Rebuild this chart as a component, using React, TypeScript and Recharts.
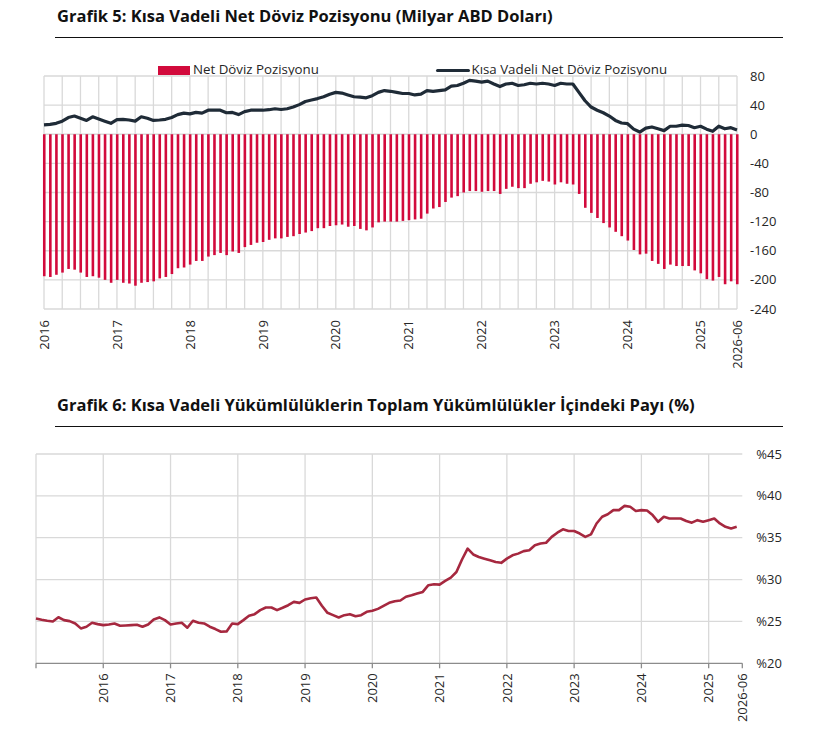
import React from 'react';
import { ComposedChart, LineChart, Bar, Line, XAxis, YAxis, CartesianGrid } from 'recharts';

// ---------- Grafik 5 data (monthly, from 2016-01) ----------
const topYearLabels = ['2016', '2017', '2018', '2019', '2020', '2021', '2022', '2023', '2024', '2025'];
const topEndLabel = '2026-06';
const topYTicks = [80, 40, 0, -40, -80, -120, -160, -200, -240];

// Net Döviz Pozisyonu (bars)
const netPosition = [
  -195, -196, -193, -190, -185, -186, -190, -196, -195, -197, -200, -204,
  -200, -204, -205, -208, -204, -203, -202, -198, -196, -192, -184, -183,
  -179, -174, -174, -168, -166, -163, -166, -161, -163, -155, -152, -149,
  -148, -145, -143, -143, -141, -140, -137, -135, -133, -129, -129, -126,
  -125, -124, -127, -126, -130, -132, -128, -121, -120, -120, -120, -119,
  -118, -117, -116, -109, -102, -100, -93, -87, -85, -80, -78, -78,
  -79, -78, -78, -82, -75, -72, -74, -74, -68, -66, -64, -65,
  -69, -66, -68, -69, -82, -101, -108, -115, -122, -128, -134, -140,
  -146, -159, -165, -164, -174, -178, -185, -179, -181, -181, -181, -187,
  -191, -199, -201, -196, -206, -202, -206,
];

// Kısa Vadeli Net Döviz Pozisyonu (line)
const shortNet = [
  13, 13.5, 15, 18, 23, 25, 22, 19, 24, 21, 18, 15,
  20, 20.5, 19.6, 18, 24, 22, 19, 19.6, 20.5, 23, 27, 29,
  28, 30, 29, 33, 33, 33, 29.5, 30, 27, 31, 33, 33,
  33, 33.7, 35, 34, 35, 37.4, 40.7, 45, 47, 49, 51.5, 55,
  57.5, 56.6, 54, 51.5, 51, 50, 53, 57.5, 60, 59, 57.5, 56,
  56, 54, 55, 60, 59, 60, 61, 66, 67, 70, 74, 73,
  71.6, 73, 69, 65.5, 69, 70, 67, 68, 70, 69, 70, 69,
  67, 70, 69, 69, 57.5, 46, 37.4, 33, 29.5, 25, 19, 15.5,
  14.5, 7, 3, 8.5, 10, 7.5, 5, 11, 11, 12.6, 12, 9,
  11, 7, 4, 11, 7.5, 9, 6,
];

// ---------- Grafik 6 data (monthly, from 2015-01) ----------
const bottomYearLabels = ['2016', '2017', '2018', '2019', '2020', '2021', '2022', '2023', '2024', '2025'];
const bottomEndLabel = '2026-06';
const bottomYTicks = [20, 25, 30, 35, 40, 45];

const shortShare = [
  25.36, 25.2, 25.08, 25.0, 25.5, 25.16, 25.04, 24.76, 24.17, 24.37, 24.84, 24.68,
  24.56, 24.64, 24.76, 24.48, 24.52, 24.56, 24.6, 24.37, 24.64, 25.24, 25.48, 25.16,
  24.64, 24.76, 24.84, 24.25, 25.08, 24.84, 24.76, 24.37, 24.09, 23.77, 23.81, 24.76,
  24.68, 25.16, 25.67, 25.87, 26.35, 26.67, 26.67, 26.35, 26.63, 26.94, 27.34, 27.22,
  27.62, 27.78, 27.86, 26.87, 26.03, 25.75, 25.48, 25.75, 25.87, 25.63, 25.75, 26.15,
  26.27, 26.5, 26.87, 27.22, 27.42, 27.5, 27.95, 28.13, 28.33, 28.53, 29.33, 29.44,
  29.4, 29.84, 30.24, 30.9, 32.4, 33.7, 33.0, 32.7, 32.5, 32.3, 32.1, 32.0,
  32.5, 32.9, 33.1, 33.4, 33.5, 34.1, 34.3, 34.4, 35.1, 35.6, 36.0, 35.8,
  35.8, 35.5, 35.1, 35.4, 36.7, 37.5, 37.8, 38.3, 38.3, 38.8, 38.7, 38.2,
  38.3, 38.25, 37.7, 36.9, 37.5, 37.3, 37.3, 37.3, 37.0, 36.8, 37.1, 36.9,
  37.1, 37.3, 36.7, 36.3, 36.1, 36.3,
];

// ---------- colours / fonts ----------
const BAR_RED = '#D20A3C';
const LINE_DARK = '#1F2B37';
const LINE_MAROON = '#A6283F';
const GRID = '#D9D9D9';
const AXIS_TEXT = '#262626';
const FONT = '"Open Sans", "DejaVu Sans", sans-serif';

// ---------- derived tables ----------
const topRows = netPosition.map((v, i) => ({ m: i, net: v, shortNet: shortNet[i] }));
const topLast = netPosition.length - 1;
const topTicks = [...topYearLabels.map((_, k) => k * 12), topLast];
const topTickLabel = (v: number) => (v === topLast ? topEndLabel : topYearLabels[v / 12] ?? '');
const topGridX = Array.from({ length: Math.floor(topLast / 3) + 1 }, (_, k) => k * 3);

const bottomRows = shortShare.map((v, i) => ({ m: i, share: v }));
const bottomEnd = shortShare.length;
const bottomTicks = [0, ...bottomYearLabels.map((_, k) => (k + 1) * 12), bottomEnd];
const bottomTickLabel = (v: number) =>
  v === bottomEnd ? bottomEndLabel : v === 0 ? '' : bottomYearLabels[v / 12 - 1] ?? '';
const bottomGridX = [0, ...bottomYearLabels.map((_, k) => (k + 1) * 12)];

const RotTick = (props: any) => {
  const { x, y, payload, fmt } = props;
  return (
    <text
      x={x}
      y={y}
      transform={`rotate(-90 ${x} ${y})`}
      textAnchor="end"
      dy="0.36em"
      fill={AXIS_TEXT}
      fontSize={13}
      fontFamily={FONT}
    >
      {fmt(payload.value)}
    </text>
  );
};

const Title = ({ top, ruleTop, text }: { top: number; ruleTop: number; text: string }) => (
  <>
    <div
      style={{
        position: 'absolute',
        left: 57,
        top,
        fontFamily: FONT,
        fontWeight: 700,
        fontSize: 16.5,
        lineHeight: '20px',
        color: '#111',
        whiteSpace: 'nowrap',
      }}
    >
      {text}
    </div>
    <div style={{ position: 'absolute', left: 55, top: ruleTop, width: 728, height: 1.2, background: '#111' }} />
  </>
);

const legendText: React.CSSProperties = {
  position: 'absolute',
  top: 60.6,
  fontFamily: FONT,
  fontSize: 13.3,
  lineHeight: '17px',
  color: AXIS_TEXT,
  whiteSpace: 'nowrap',
};

export default function App() {
  return (
    <div style={{ position: 'absolute', left: 0, top: 0, width: 817, height: 732, background: '#fff', overflow: 'hidden' }}>
      <Title top={5.9} ruleTop={36.8} text="Grafik 5: Kısa Vadeli Net Döviz Pozisyonu (Milyar ABD Doları)" />

      {/* legend */}
      <div style={{ position: 'absolute', left: 158, top: 66, width: 32, height: 9, background: BAR_RED }} />
      <div style={{ ...legendText, left: 193 }}>Net Döviz Pozisyonu</div>
      <div style={{ position: 'absolute', left: 436, top: 68.5, width: 34, height: 3.5, background: LINE_DARK, borderRadius: 2 }} />
      <div style={{ ...legendText, left: 471.5 }}>Kısa Vadeli Net Döviz Pozisyonu</div>

      <div style={{ position: 'absolute', left: 0, top: 0 }}>
        <ComposedChart width={817} height={372} data={topRows} margin={{ top: 76, right: 20, bottom: 3, left: 44 }}>
          <CartesianGrid stroke={GRID} strokeWidth={1.3} verticalValues={topGridX} horizontalValues={topYTicks} />
          <XAxis
            dataKey="m"
            type="number"
            domain={[0, topLast]}
            ticks={topTicks}
            interval={0}
            axisLine={false}
            tickLine={false}
            tickSize={0}
            tickMargin={11}
            height={60}
            tick={<RotTick fmt={topTickLabel} />}
          />
          <YAxis
            orientation="right"
            domain={[-240, 80]}
            ticks={topYTicks}
            interval={0}
            width={60}
            axisLine={false}
            tickLine={false}
            tickSize={0}
            tickMargin={13}
            tick={{ fill: AXIS_TEXT, fontSize: 13, fontFamily: FONT }}
          />
          <Bar dataKey="net" fill={BAR_RED} barSize={2.6} isAnimationActive={false} />
          <Line
            dataKey="shortNet"
            type="linear"
            stroke={LINE_DARK}
            strokeWidth={3.2}
            dot={false}
            strokeLinejoin="round"
            isAnimationActive={false}
          />
        </ComposedChart>
      </div>

      <Title top={395.3} ruleTop={425.8} text="Grafik 6: Kısa Vadeli Yükümlülüklerin Toplam Yükümlülükler İçindeki Payı (%)" />

      <div style={{ position: 'absolute', left: 0, top: 380 }}>
        <LineChart width={817} height={352} data={bottomRows} margin={{ top: 74, right: 14.7, bottom: 8.7, left: 36 }}>
          <CartesianGrid stroke={GRID} strokeWidth={1.3} verticalValues={bottomGridX} horizontalValues={[25, 30, 35, 40, 45]} />
          <XAxis
            dataKey="m"
            type="number"
            domain={[0, bottomEnd]}
            ticks={bottomTicks}
            interval={0}
            axisLine={{ stroke: '#8C8C8C', strokeWidth: 1.3 }}
            tickLine={{ stroke: '#8C8C8C', strokeWidth: 1.3 }}
            tickSize={5}
            tickMargin={5}
            height={60}
            tick={<RotTick fmt={bottomTickLabel} />}
          />
          <YAxis
            orientation="right"
            domain={[20, 45]}
            ticks={bottomYTicks}
            interval={0}
            width={60}
            axisLine={false}
            tickLine={false}
            tickSize={0}
            tickMargin={14}
            tickFormatter={(v: number) => `%${v}`}
            tick={{ fill: AXIS_TEXT, fontSize: 13, fontFamily: FONT }}
          />
          <Line
            dataKey="share"
            type="linear"
            stroke={LINE_MAROON}
            strokeWidth={2.6}
            dot={false}
            strokeLinejoin="round"
            isAnimationActive={false}
          />
        </LineChart>
      </div>
    </div>
  );
}
